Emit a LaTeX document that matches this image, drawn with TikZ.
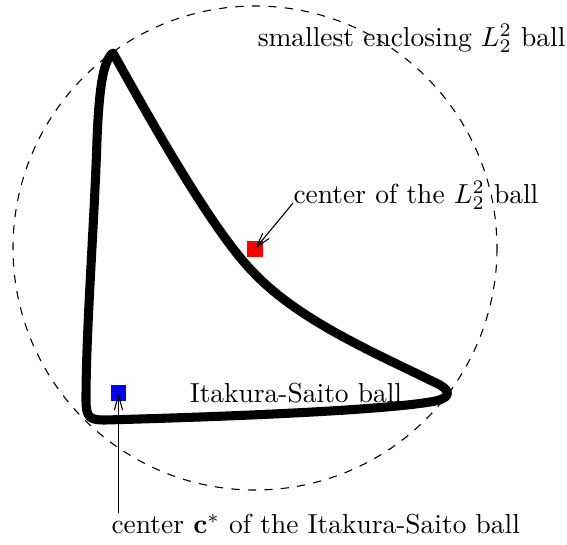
\documentclass[tikz,border=0pt]{standalone}
\usetikzlibrary{arrows.meta, positioning}
\usepackage{amsmath}
\usepackage{amssymb}

\begin{document}
\begin{tikzpicture}[x=0.364pt, y=-0.364pt, >={Straight Barb[length=5.5pt, width=3pt]}, thin,
    marker/.style={minimum size=5.8pt, inner sep=0pt},
    lbl/.style={inner sep=0pt}]
    \useasboundingbox (0,0) rectangle (567,544);
    \draw[dashed] (255,248) circle (242);
    % the Itakura-Saito ball
    \draw[line width=3.3pt, line join=round, line cap=round]
      (440,385) .. controls (380,355) and (300,322) .. (253,272)
      .. controls (210,228) and (145,110) .. (113,53)
      .. controls (103,60) and (99,90) .. (97,140)
      .. controls (94,230) and (86,330) .. (86,400)
      .. controls (86,418) and (90,420) .. (105,420)
      .. controls (250,416) and (380,410) .. (430,402)
      .. controls (450,399) and (452,392) .. cycle;
    \node[marker, fill=red] (l2c) at (255,249) {};
    \node[marker, fill=blue] (isc) at (118.5,393) {};
    \node[lbl, anchor=base east] (enc) at (566,46) {smallest enclosing $L_2^2$ ball};
    \node[lbl, anchor=base west] (l2lbl) at (293,203) {center of the $L_2^2$ ball};
    \node[lbl, anchor=base] (islbl) at (296,402) {Itakura-Saito ball};
    \node[lbl, anchor=base west] (cstar) at (111,533) {center $\mathbf{c}^{*}$ of the Itakura-Saito ball};
    \draw[->] (l2lbl.base west) -- (l2c.center);
    \draw[->] (cstar.north west -| isc) -- (isc.center);
\end{tikzpicture}
\end{document}
